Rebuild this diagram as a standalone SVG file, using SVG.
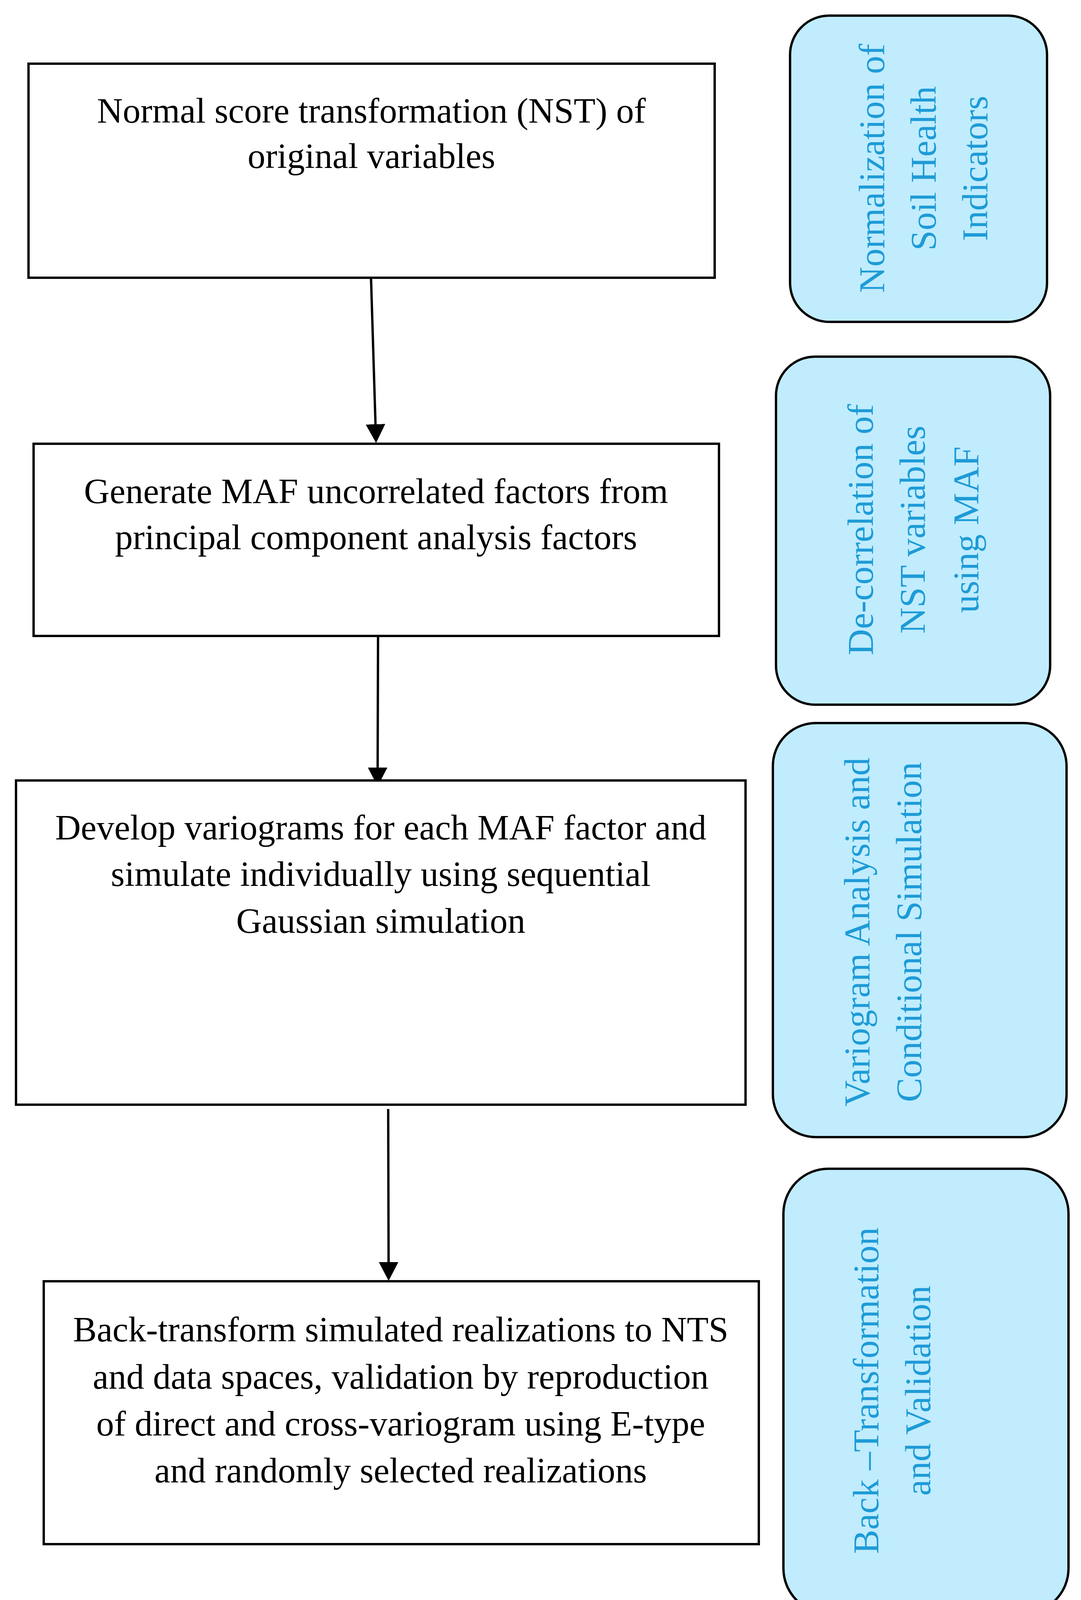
<svg xmlns="http://www.w3.org/2000/svg" width="2768" height="4164" viewBox="0 0 2768 4164">
<style>
.box{fill:#ffffff;stroke:#000000;stroke-width:6}
.side{fill:#c0ecfe;stroke:#000000;stroke-width:6}
.mt{font-family:"Liberation Serif","Times New Roman",serif;font-size:91px;fill:#000000;text-anchor:middle}
.st{font-family:"Liberation Serif","Times New Roman",serif;font-size:93px;fill:#1e9bd7;text-anchor:middle}
.conn{fill:none;stroke:#000000;stroke-width:6}
</style>
<defs>
<marker id="ah" markerUnits="userSpaceOnUse" viewBox="0 0 48 50" refX="0" refY="25" markerWidth="48" markerHeight="50" orient="auto">
<path d="M0,0 L48,25 L0,50 Z" fill="#000000"/>
</marker>
</defs>
<rect width="2768" height="4164" fill="#ffffff"/>
<g id="connectors">
<path class="conn" d="M950,711 L961.5,1086" marker-end="url(#ah)"/>
<path class="conn" d="M968,1630 L967,1965" marker-end="url(#ah)"/>
<path class="conn" d="M994,2839 L995,3231" marker-end="url(#ah)"/>
</g>
<g id="step1">
<rect class="box" x="73" y="163" width="1757" height="548"/>
<text class="mt" x="951" y="314">Normal score transformation (NST) of</text>
<text class="mt" x="951" y="430">original variables</text>
</g>
<g id="step2">
<rect class="box" x="86" y="1136" width="1755" height="492"/>
<text class="mt" x="963" y="1288">Generate MAF uncorrelated factors from</text>
<text class="mt" x="963" y="1406">principal component analysis factors</text>
</g>
<g id="step3">
<rect class="box" x="41" y="1998" width="1868" height="830"/>
<text class="mt" x="975" y="2149">Develop variograms for each MAF factor and</text>
<text class="mt" x="975" y="2268">simulate individually using sequential</text>
<text class="mt" x="975" y="2388">Gaussian simulation</text>
</g>
<g id="step4">
<rect class="box" x="112" y="3280" width="1831" height="673"/>
<text class="mt" x="1026" y="3434">Back-transform simulated realizations to NTS</text>
<text class="mt" x="1026" y="3555">and data spaces, validation by reproduction</text>
<text class="mt" x="1026" y="3675">of direct and cross-variogram using E-type</text>
<text class="mt" x="1026" y="3795">and randomly selected realizations</text>
</g>
<g id="phase1">
<rect class="side" x="2023" y="40" width="658" height="784" rx="100" ry="100"/>
<text class="st" transform="translate(2264,431) rotate(-90)">Normalization of</text>
<text class="st" transform="translate(2396,431) rotate(-90)">Soil Health</text>
<text class="st" transform="translate(2528,431) rotate(-90)">Indicators</text>
</g>
<g id="phase2">
<rect class="side" x="1987" y="913" width="702" height="891" rx="100" ry="100"/>
<text class="st" transform="translate(2235,1356) rotate(-90)">De-correlation of</text>
<text class="st" transform="translate(2368,1356) rotate(-90)">NST variables</text>
<text class="st" transform="translate(2505,1356) rotate(-90)">using MAF</text>
</g>
<g id="phase3">
<rect class="side" x="1979" y="1851" width="752" height="1060" rx="110" ry="110"/>
<text class="st" transform="translate(2226,2386) rotate(-90)">Variogram Analysis and</text>
<text class="st" transform="translate(2359,2386) rotate(-90)">Conditional Simulation</text>
</g>
<g id="phase4">
<rect class="side" x="2006" y="2992" width="730" height="1138" rx="115" ry="115"/>
<text class="st" transform="translate(2249,3560) rotate(-90)">Back –Transformation</text>
<text class="st" transform="translate(2382,3560) rotate(-90)">and Validation</text>
</g>
</svg>
